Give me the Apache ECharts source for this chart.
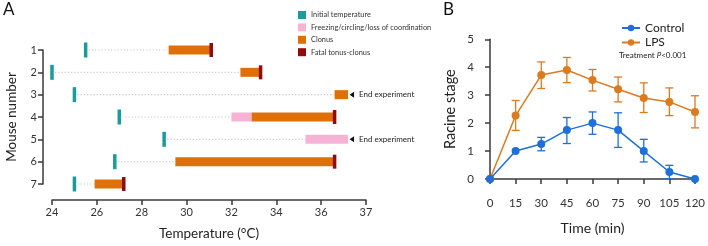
<!DOCTYPE html>
<html>
<head>
<meta charset="utf-8">
<script src="https://cdn.jsdelivr.net/npm/echarts@6/dist/echarts.min.js"></script>
<style>
  html, body { margin: 0; padding: 0; background: #fff; }
  #main { width: 708px; height: 246px; }
</style>
</head>
<body>
<div id="main"></div>
<script>
// ---- panel A data (temperature, °C) ----
var mice = [1, 2, 3, 4, 5, 6, 7];
var initialTemp = [25.5, 24.0, 25.0, 27.0, 29.0, 26.8, 25.0];
var freezing = [null, null, null, [32.0, 32.9], [35.3, 36.6], null, null];
var clonus = [[29.2, 31.1], [32.4, 33.3], [36.3, 36.6], [32.9, 36.3], null, [29.5, 36.3], [25.9, 27.2]];
var fatal = [31.1, 33.3, null, 36.3, null, 36.3, 27.2];
var endExperiment = [[36.6, 3], [36.6, 5]];
var tempTicks = [24, 26, 28, 30, 32, 34, 36, 37];

// ---- panel B data (Racine stage) ----
var timeMin = [0, 15, 30, 45, 60, 75, 90, 105, 120];
var controlMean = [0, 1.0, 1.25, 1.75, 2.0, 1.75, 1.0, 0.25, 0];
var controlLow = [0, 1.0, 1.01, 1.27, 1.6, 1.13, 0.61, 0.01, 0];
var controlHigh = [0, 1.0, 1.49, 2.2, 2.4, 2.37, 1.42, 0.49, 0];
var lpsMean = [0, 2.27, 3.72, 3.9, 3.54, 3.21, 2.9, 2.76, 2.4];
var lpsLow = [0, 1.74, 3.24, 3.45, 3.15, 2.76, 2.38, 2.27, 1.83];
var lpsHigh = [0, 2.81, 4.19, 4.35, 3.92, 3.65, 3.44, 3.26, 2.98];

var C_TEAL = '#1a9c9a', C_PINK = '#f7b3d6', C_ORANGE = '#de7009', C_RED = '#8e0c0c';
var C_BLUE = '#1e6fd9', C_LPS = '#dc7a1f';
var FONT = 'Lato';

// axis is broken after 36: the last degree takes two units
function pos(t) { return t <= 36 ? t : 36 + 2 * (t - 36); }

function rows(list) {
  var out = [];
  list.forEach(function (v, i) {
    if (v == null) return;
    if (Array.isArray(v)) out.push([pos(v[0]), pos(v[1]), mice[i]]);
    else out.push([pos(v), pos(v), mice[i]]);
  });
  return out;
}

var dotted = mice.map(function (m, i) {
  var first = freezing[i] ? freezing[i][0] : clonus[i][0];
  return [pos(initialTemp[i]), pos(first), m];
});

function barRender(h) {
  return function (params, api) {
    var a = api.coord([api.value(0), api.value(2)]);
    var b = api.coord([api.value(1), api.value(2)]);
    return { type: 'rect', shape: { x: a[0], y: a[1] - h / 2, width: b[0] - a[0], height: h },
      style: { fill: api.visual('color') } };
  };
}
function tickRender(w, h) {
  return function (params, api) {
    var a = api.coord([api.value(0), api.value(2)]);
    return { type: 'rect', shape: { x: a[0] - w / 2, y: a[1] - h / 2, width: w, height: h },
      style: { fill: api.visual('color') } };
  };
}
function errRender(color) {
  return function (params, api) {
    var lo = api.coord([api.value(0), api.value(1)]);
    var hi = api.coord([api.value(0), api.value(2)]);
    if (Math.abs(lo[1] - hi[1]) < 1) return null;
    var s = { stroke: color, lineWidth: 1.3 };
    return { type: 'group', children: [
      { type: 'line', shape: { x1: lo[0], y1: lo[1], x2: hi[0], y2: hi[1] }, style: s },
      { type: 'line', shape: { x1: lo[0] - 4, y1: lo[1], x2: lo[0] + 4, y2: lo[1] }, style: s },
      { type: 'line', shape: { x1: hi[0] - 4, y1: hi[1], x2: hi[0] + 4, y2: hi[1] }, style: s }
    ] };
  };
}

var axisLine = { lineStyle: { color: '#3a3a3a', width: 1.5 } };
var axisTick = { length: 5, lineStyle: { color: '#3a3a3a', width: 1.5 } };

var chart = echarts.init(document.getElementById('main'));
chart.setOption({
  animation: false,
  textStyle: { fontFamily: FONT },
  grid: [
    { left: 52, width: 314, top: 50, height: 143 },
    { left: 490, width: 209, top: 39.3, height: 139.7 }
  ],
  xAxis: [
    { gridIndex: 0, type: 'value', min: 24, max: 38, interval: 2, offset: 16,
      axisLine: axisLine, axisTick: axisTick, splitLine: { show: false },
      axisLabel: { fontSize: 11, color: '#333', margin: 7, fontFamily: FONT,
        formatter: function (v) { return v === 38 ? String(tempTicks[7]) : String(v); } },
      name: 'Temperature (°C)', nameLocation: 'middle', nameGap: 27,
      nameTextStyle: { fontSize: 13.5, color: '#222', fontFamily: FONT } },
    { gridIndex: 1, type: 'value', min: 0, max: 120, interval: 15, offset: 9,
      axisLine: axisLine, axisTick: axisTick, splitLine: { show: false },
      axisLabel: { fontSize: 11.5, color: '#333', margin: 9, fontFamily: FONT },
      name: 'Time (min)', nameLocation: 'middle', nameGap: 33,
      nameTextStyle: { fontSize: 14, color: '#222', fontFamily: FONT } }
  ],
  yAxis: [
    { gridIndex: 0, type: 'value', min: 1, max: 7, interval: 1, inverse: true, offset: 9,
      axisLine: axisLine, axisTick: axisTick, splitLine: { show: false },
      axisLabel: { fontSize: 11, color: '#333', margin: 6, fontFamily: FONT },
      name: 'Mouse number', nameLocation: 'middle', nameGap: 24,
      nameTextStyle: { fontSize: 13.5, color: '#222', fontFamily: FONT } },
    { gridIndex: 1, type: 'value', min: 0, max: 5, interval: 1, offset: 9,
      axisLine: axisLine, axisTick: axisTick, splitLine: { show: false },
      axisLabel: { fontSize: 11.5, color: '#333', margin: 7, fontFamily: FONT },
      name: 'Racine stage', nameLocation: 'middle', nameGap: 23,
      nameTextStyle: { fontSize: 14.5, color: '#222', fontFamily: FONT } }
  ],
  legend: [
    { orient: 'vertical', left: 293, top: 6, itemWidth: 8, itemHeight: 8, itemGap: 4.4, icon: 'rect',
      textStyle: { fontSize: 7.4, color: '#333', fontFamily: FONT },
      data: ['Initial temperature', 'Freezing/circling/loss of coordination', 'Clonus', 'Fatal tonus-clonus'] },
    { orient: 'vertical', left: 616, top: 17, itemWidth: 18, itemHeight: 8, itemGap: 2.5,
      textStyle: { fontSize: 12, color: '#222', fontFamily: FONT },
      data: ['Control', 'LPS'] }
  ],
  graphic: [
    { type: 'text', left: 3, top: 1, style: { text: 'A', fontSize: 17, fill: '#111', fontFamily: FONT } },
    { type: 'text', left: 443, top: 1, style: { text: 'B', fontSize: 17, fill: '#111', fontFamily: FONT } },
    { type: 'text', left: 619, top: 51, style: { text: 'Treatment {i|P}<0.001', fontSize: 8, fill: '#222', fontFamily: FONT,
      rich: { i: { fontStyle: 'italic', fontSize: 8, fill: '#222', fontFamily: FONT } } } }
  ],
  series: [
    { type: 'custom', name: 'dotted', xAxisIndex: 0, yAxisIndex: 0, silent: true, z: 1,
      encode: { x: [0, 1], y: 2 }, data: dotted,
      renderItem: function (params, api) {
        var a = api.coord([api.value(0), api.value(2)]);
        var b = api.coord([api.value(1), api.value(2)]);
        return { type: 'line', shape: { x1: a[0] + 3, y1: a[1], x2: b[0], y2: b[1] },
          style: { stroke: '#cacaca', lineWidth: 1.2, lineDash: [1.2, 2] } };
      } },
    { type: 'custom', name: 'Initial temperature', xAxisIndex: 0, yAxisIndex: 0, z: 3,
      itemStyle: { color: C_TEAL }, encode: { x: [0, 1], y: 2 },
      data: rows(initialTemp), renderItem: tickRender(3.5, 15) },
    { type: 'custom', name: 'Freezing/circling/loss of coordination', xAxisIndex: 0, yAxisIndex: 0, z: 2,
      itemStyle: { color: C_PINK }, encode: { x: [0, 1], y: 2 },
      data: rows(freezing), renderItem: barRender(9) },
    { type: 'custom', name: 'Clonus', xAxisIndex: 0, yAxisIndex: 0, z: 2,
      itemStyle: { color: C_ORANGE }, encode: { x: [0, 1], y: 2 },
      data: rows(clonus), renderItem: barRender(9) },
    { type: 'custom', name: 'Fatal tonus-clonus', xAxisIndex: 0, yAxisIndex: 0, z: 3,
      itemStyle: { color: C_RED }, encode: { x: [0, 1], y: 2 },
      data: rows(fatal), renderItem: tickRender(3.5, 14) },
    { type: 'custom', name: 'end', xAxisIndex: 0, yAxisIndex: 0, silent: true, z: 3,
      encode: { x: 0, y: 1 }, data: endExperiment.map(function (d) { return [pos(d[0]), d[1]]; }),
      renderItem: function (params, api) {
        var p = api.coord([api.value(0), api.value(1)]);
        return { type: 'group', children: [
          { type: 'polygon', shape: { points: [[p[0] + 1.5, p[1]], [p[0] + 6, p[1] - 3], [p[0] + 6, p[1] + 3]] },
            style: { fill: '#111' } },
          { type: 'text', style: { text: 'End experiment', x: p[0] + 11, y: p[1], verticalAlign: 'middle',
            fontSize: 8, fill: '#222', fontFamily: FONT } }
        ] };
      } },
    { type: 'custom', name: 'errControl', xAxisIndex: 1, yAxisIndex: 1, silent: true, z: 1,
      encode: { x: 0, y: [1, 2] },
      data: timeMin.map(function (t, i) { return [t, controlLow[i], controlHigh[i]]; }),
      renderItem: errRender(C_BLUE) },
    { type: 'custom', name: 'errLps', xAxisIndex: 1, yAxisIndex: 1, silent: true, z: 1,
      encode: { x: 0, y: [1, 2] },
      data: timeMin.map(function (t, i) { return [t, lpsLow[i], lpsHigh[i]]; }),
      renderItem: errRender(C_LPS) },
    { type: 'line', name: 'Control', xAxisIndex: 1, yAxisIndex: 1, z: 3,
      symbol: 'circle', symbolSize: 8, color: C_BLUE,
      lineStyle: { width: 1.5, color: C_BLUE }, itemStyle: { color: C_BLUE },
      data: timeMin.map(function (t, i) { return [t, controlMean[i]]; }) },
    { type: 'line', name: 'LPS', xAxisIndex: 1, yAxisIndex: 1, z: 2,
      symbol: 'circle', symbolSize: 8, color: C_LPS,
      lineStyle: { width: 1.5, color: C_LPS }, itemStyle: { color: C_LPS },
      data: timeMin.map(function (t, i) { return [t, lpsMean[i]]; }) }
  ]
});
</script>
</body>
</html>
